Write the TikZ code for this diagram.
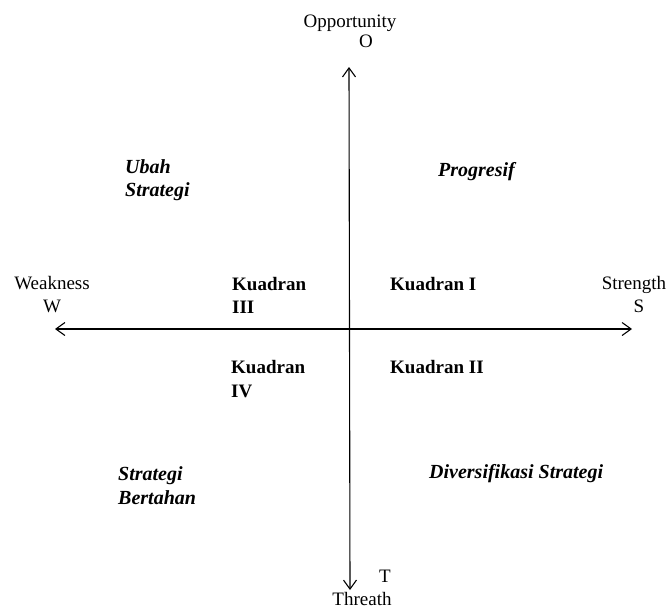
\documentclass[tikz,border=0pt]{standalone}
\usepackage{fontspec}
\setmainfont{Liberation Serif}
\usetikzlibrary{arrows.meta}
\begin{document}
\begin{tikzpicture}[x=1pt,y=-1pt,
  lbl/.style={inner sep=0pt, font=\fontsize{19}{22}\selectfont},
  kd/.style={inner sep=0pt, anchor=base west, font=\fontsize{19}{22}\selectfont\bfseries},
  st/.style={inner sep=0pt, anchor=base west, font=\fontsize{20}{23}\selectfont\bfseries\itshape},
  axis/.style={line width=1.1pt, {Straight Barb[length=9pt,width=13pt]}-{Straight Barb[length=9pt,width=13pt]}}]
\useasboundingbox (0,0) rectangle (669,611);
% axis end points
\coordinate (top) at (349,67);
\coordinate (bot) at (350,590);
\coordinate (left) at (55,329);
\coordinate (right) at (632,329);
\draw[axis] (bot) -- (top);
\draw[axis] (left) -- (right);
% axis labels
\node[lbl, anchor=base] (opp) at (350,27) {Opportunity};
\node[lbl, anchor=base] (o) at (366,47) {O};
\node[lbl, anchor=base] (weak) at (52,289) {Weakness};
\node[lbl, anchor=base] (w) at (52,312) {W};
\node[lbl, anchor=base] (str) at (634,289) {Strength};
\node[lbl, anchor=base] (s) at (639,312) {S};
\node[lbl, anchor=base] (t) at (385,582) {T};
\node[lbl, anchor=base] (thr) at (362,605) {Threath};
% quadrants
\node[kd] (k3a) at (232,290) {Kuadran};
\node[kd] (k3b) at (232,313) {III};
\node[kd] (k1) at (390,290) {Kuadran I};
\node[kd] (k4a) at (231,373) {Kuadran};
\node[kd] (k4b) at (231,397) {IV};
\node[kd] (k2) at (390,373) {Kuadran II};
% strategies
\node[st] (ub1) at (125,173) {Ubah};
\node[st] (ub2) at (125,196) {Strategi};
\node[st] (prog) at (438,176) {Progresif};
\node[st] (sb1) at (118,480) {Strategi};
\node[st] (sb2) at (118,504) {Bertahan};
\node[st] (div) at (429,478) {Diversifikasi Strategi};
\end{tikzpicture}
\end{document}
